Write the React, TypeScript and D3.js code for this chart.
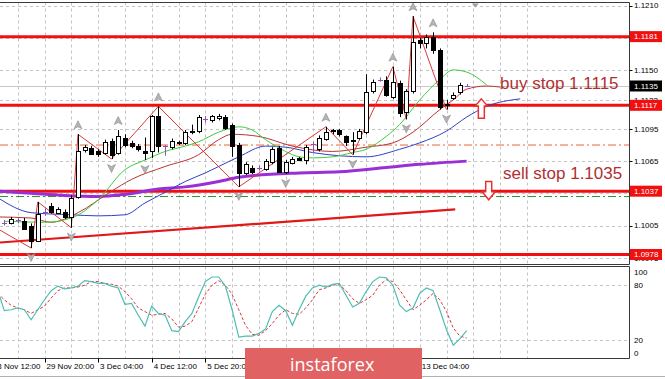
import React from 'react';
import * as d3 from 'd3';

// ---------- DATA (H4 EURUSD candles, index 0..69) ----------
const opens = [1.1007,1.1007,1.1010,1.1009,1.1005,1.0991,1.1018,1.1023,1.1017,1.1018,1.1013,1.1032,1.1075,1.1077,1.1074,1.1073,1.1084,1.1073,1.1087,1.1082,1.1079,1.1074,1.1074,1.1107,1.1079,1.1078,1.1082,1.1082,1.1092,1.1093,1.1104,1.1103,1.1105,1.1106,1.1099,1.1080,1.1054,1.1059,1.1059,1.1058,1.1064,1.1077,1.1055,1.1063,1.1068,1.1066,1.1081,1.1076,1.1086,1.1093,1.1094,1.1088,1.1084,1.1087,1.1092,1.1130,1.1141,1.1141,1.1125,1.1138,1.1111,1.1130,1.1178,1.1175,1.1181,1.1169,1.1117,1.1124,1.1129,1.1135];
const highs = [1.1010,1.1013,1.1012,1.1012,1.1007,1.1027,1.1021,1.1026,1.1022,1.1020,1.1033,1.1090,1.1080,1.1079,1.1076,1.1085,1.1086,1.1094,1.1090,1.1084,1.1081,1.1087,1.1108,1.1116,1.1080,1.1086,1.1084,1.1094,1.1099,1.1108,1.1107,1.1108,1.1109,1.1108,1.1100,1.1082,1.1064,1.1061,1.1061,1.1067,1.1078,1.1079,1.1066,1.1069,1.1069,1.1080,1.1083,1.1089,1.1097,1.1095,1.1095,1.1089,1.1092,1.1095,1.1146,1.1141,1.1143,1.1144,1.1153,1.1140,1.1132,1.1200,1.1180,1.1183,1.1185,1.1170,1.1122,1.1129,1.1138,1.1137];
const lows = [1.1005,1.1006,1.1007,1.1001,1.0984,1.0990,1.1014,1.1016,1.1016,1.1011,1.1003,1.1030,1.1073,1.1071,1.1069,1.1071,1.1067,1.1071,1.1078,1.1077,1.1074,1.1066,1.1068,1.1073,1.1070,1.1076,1.1080,1.1080,1.1090,1.1091,1.1101,1.1101,1.1103,1.1094,1.1069,1.1041,1.1052,1.1053,1.1056,1.1056,1.1062,1.1054,1.1053,1.1062,1.1065,1.1062,1.1073,1.1074,1.1084,1.1090,1.1088,1.1079,1.1071,1.1085,1.1090,1.1128,1.1139,1.1125,1.1123,1.1106,1.1104,1.1128,1.1170,1.1170,1.1165,1.1113,1.1113,1.1122,1.1127,1.1134];
const closes = [1.1007,1.1011,1.1010,1.1002,1.0991,1.1016,1.1018,1.1018,1.1020,1.1013,1.1031,1.1074,1.1078,1.1072,1.1072,1.1083,1.1071,1.1088,1.1080,1.1079,1.1076,1.1073,1.1107,1.1079,1.1079,1.1084,1.1083,1.1092,1.1093,1.1106,1.1104,1.1107,1.1107,1.1096,1.1079,1.1054,1.1062,1.1055,1.1059,1.1065,1.1076,1.1055,1.1064,1.1067,1.1066,1.1078,1.1081,1.1087,1.1092,1.1094,1.1090,1.1083,1.1085,1.1093,1.1129,1.1139,1.1141,1.1127,1.1139,1.1110,1.1130,1.1176,1.1175,1.1181,1.1169,1.1115,1.1118,1.1127,1.1136,1.1135];

const priceTicks = [1.1210, 1.1180, 1.1150, 1.1122, 1.1095, 1.1065, 1.1035, 1.1005, 1.0975];
const levelLines = [1.1181, 1.1117, 1.1037, 1.0978];
const bidPrice = 1.1135;
const orangeLevel = 1.1080;
const greenLevel = 1.1032;

const timeLabels = ['28 Nov 12:00', '29 Nov 20:00', '3 Dec 04:00', '4 Dec 12:00', '5 Dec 20:00', '9 Dec 04:00', '10 Dec 12:00', '11 Dec 20:00', '13 Dec 04:00'];
const timeLabelIdx = [-2, 6, 14, 22, 30, 38, 46, 54, 62];

// Alligator (shifted) lines: [bar index, price]
const jaw: [number, number][] = [[-1,1.1031],[4,1.1017],[10,1.1015],[14,1.1014],[18,1.1015],[21,1.1026],[24,1.1036],[27,1.1046],[30,1.1054],[32,1.1060],[35,1.1069],[39,1.1079],[42,1.1078],[46,1.1073],[50,1.1070],[54,1.1069],[59,1.1076],[62,1.1082],[66,1.1093],[69,1.1106],[72,1.1116],[77,1.1123]];
const teeth: [number, number][] = [[-1,1.1013],[4,1.1012],[7,1.1008],[11,1.1017],[16,1.1037],[19,1.1048],[24,1.1060],[29,1.1071],[32,1.1085],[34,1.1090],[38,1.1088],[43,1.1079],[49,1.1074],[54,1.1078],[58,1.1082],[61,1.1092],[65,1.1113],[67,1.1122],[69,1.1132],[72,1.1135],[74,1.1134]];
const lips: [number, number][] = [[0,1.1009],[6,1.1008],[10,1.1012],[14,1.1029],[18,1.1057],[21,1.1066],[24,1.1074],[27,1.1079],[29,1.1083],[32,1.1092],[35,1.1097],[37,1.1094],[39,1.1085],[42,1.1074],[44,1.1069],[46,1.1068],[49,1.1069],[52,1.1073],[54,1.1076],[57,1.1088],[59,1.1099],[62,1.1122],[65,1.1141],[67,1.1150],[69,1.1148],[72,1.1136]];
const slowMA: [number, number][] = [[-1,1.1037],[4,1.1035],[9,1.1033],[14,1.1032],[18,1.1034],[23,1.1039],[27,1.1041],[32,1.1046],[35,1.1050],[44,1.1054],[50,1.1055],[57,1.1059],[62,1.1062],[69,1.1065]];
const zigzag: [number, number][] = [[-1,1.1002],[4,1.0984],[5,1.1027],[10,1.1003],[11,1.1090],[16,1.1067],[23,1.1116],[35,1.1041],[48,1.1097],[52,1.1071],[58,1.1153],[60,1.1104],[61,1.1200],[66,1.1113]];
const trendLine: [number, number][] = [[-1, 1.0989], [67.3, 1.1020]];
const fractalUp = [11, 17, 23, 48, 58, 61, 64];
const fractalDown = [4, 10, 16, 21, 35, 42, 52, 60, 66];

// Stochastic, starting at bar index -1
const stochStart = -1;
const stochMain = [75,52,53,55,53,42,53,64,74,79,76,77,79,85,84,82,82,79,77,59,60,47,35,57,49,47,30,29,40,49,67,84,89,89,79,53,23,24,24,27,32,51,58,52,36,53,68,77,80,78,81,82,69,56,60,73,84,89,88,80,58,51,55,71,77,74,53,31,14,21,30];
const stochSignal = [71,64,58,55,53,49,53,57,66,74,77,77,78,80,84,84,82,81,79,73,65,55,51,47,48,49,43,34,35,40,55,70,80,85,80,70,53,36,26,25,30,38,47,53,49,48,55,64,75,77,80,81,74,65,60,64,69,80,86,84,75,64,53,58,64,71,64,51,33,24,22];
const stochLevels = [80, 20];
const stochLabels = [100, 80, 20, 0];

const FONT = "'Liberation Sans', Arial, sans-serif";

export default function App() {
  const W = 665, H = 379;
  const plotR = 629.5;
  const mainTop = 2.5, mainBot = 264.5, subTop = 266.5, subBot = 358.5;
  const x = d3.scaleLinear().domain([0, 69]).range([4.3, 466.6]);
  const y = d3.scaleLinear().domain([1.0978, 1.1210]).range([254.5, 5.5]);
  const ys = d3.scaleLinear().domain([0, 100]).range([358, 267]);
  const idx = d3.range(opens.length);
  const gridIdx = d3.range(-2, 80, 4).filter(i => x(i) < plotR - 2);

  const smooth = d3.line<[number, number]>().x(d => x(d[0])).y(d => y(d[1])).curve(d3.curveMonotoneX);
  const straight = d3.line<[number, number]>().x(d => x(d[0])).y(d => y(d[1]));
  const stochLine = d3.line<number>().x((_, i) => x(i + stochStart)).y(d => ys(d));

  const cxOf = (i: number) => Math.round(x(i)) + 0.5;

  const fractalPath = (cx: number, cy: number, up: boolean) => {
    const s = up ? 1 : -1;
    return `M${cx},${cy - 4.5 * s} L${cx + 4},${cy + 3.5 * s} L${cx},${cy + 1.5 * s} L${cx - 4},${cy + 3.5 * s} Z`;
  };

  // annotation anchors (index, price)
  const upArrow = { i: 71.2, top: 1.1123, bot: 1.1105 };
  const dnArrow = { i: 72.3, top: 1.1046, bot: 1.1029 };
  const ua = { cx: x(upArrow.i), t: y(upArrow.top), b: y(upArrow.bot) };
  const da = { cx: x(dnArrow.i), t: y(dnArrow.top), b: y(dnArrow.bot) };

  return (
    <div style={{ position: 'absolute', left: 0, top: 0 }}>
      <svg width={W} height={H} style={{ display: 'block', background: '#fff' }} fontFamily={FONT}>
        <defs>
          <clipPath id="mainClip"><rect x={0} y={mainTop} width={plotR} height={mainBot - mainTop} /></clipPath>
          <clipPath id="subClip"><rect x={0} y={subTop} width={plotR} height={subBot - subTop} /></clipPath>
        </defs>
        <rect x={0} y={0} width={W} height={H} fill="#fff" />

        {/* grid main */}
        <g stroke="#c4c4c4" strokeWidth={1} strokeDasharray="3,3" clipPath="url(#mainClip)">
          {gridIdx.map(i => <line key={'gv' + i} x1={Math.round(x(i)) + 0.5} x2={Math.round(x(i)) + 0.5} y1={mainTop} y2={mainBot} />)}
          {priceTicks.map(p => <line key={'gh' + p} x1={0} x2={plotR} y1={Math.round(y(p)) + 0.5} y2={Math.round(y(p)) + 0.5} />)}
        </g>
        {/* grid sub */}
        <g stroke="#c4c4c4" strokeWidth={1} strokeDasharray="3,3" clipPath="url(#subClip)">
          {gridIdx.map(i => <line key={'sv' + i} x1={Math.round(x(i)) + 0.5} x2={Math.round(x(i)) + 0.5} y1={subTop} y2={subBot} />)}
          {stochLevels.map(v => <line key={'sh' + v} x1={0} x2={plotR} y1={Math.round(ys(v)) + 0.5} y2={Math.round(ys(v)) + 0.5} />)}
        </g>

        <g clipPath="url(#mainClip)">
          {/* level helper lines */}
          <line x1={0} x2={plotR} y1={y(orangeLevel)} y2={y(orangeLevel)} stroke="#e8653a" strokeWidth={1} strokeDasharray="8,3,2,3" />
          <line x1={0} x2={plotR} y1={y(greenLevel)} y2={y(greenLevel)} stroke="#2f8f2f" strokeWidth={1} strokeDasharray="8,3,2,3" />
          <line x1={0} x2={plotR} y1={Math.round(y(bidPrice)) + 0.5} y2={Math.round(y(bidPrice)) + 0.5} stroke="#c8c8c8" strokeWidth={1} />
          {levelLines.map(p => <line key={'lv' + p} x1={0} x2={plotR} y1={y(p)} y2={y(p)} stroke="#f01010" strokeWidth={3} />)}

          {/* trend line */}
          <path d={straight(trendLine) || ''} fill="none" stroke="#e01818" strokeWidth={2.2} />
          {/* slow MA */}
          <path d={smooth(slowMA) || ''} fill="none" stroke="#9a2fd6" strokeWidth={3} />
          {/* alligator */}
          <path d={smooth(jaw) || ''} fill="none" stroke="#2f3fc0" strokeWidth={1} />
          <path d={smooth(teeth) || ''} fill="none" stroke="#b83434" strokeWidth={1} />
          <path d={smooth(lips) || ''} fill="none" stroke="#3ccc3c" strokeWidth={1} />
          {/* zigzag */}
          <path d={straight(zigzag) || ''} fill="none" stroke="#d83a3a" strokeWidth={1} />

          {/* candles */}
          {idx.map(i => {
            const o = opens[i], c = closes[i], h = highs[i], l = lows[i];
            const cx = cxOf(i);
            const doji = o === c;
            const col = doji ? '#9a4bb5' : '#000';
            const yt = Math.round(y(Math.max(o, c)));
            const yb = Math.round(y(Math.min(o, c)));
            return (
              <g key={'c' + i}>
                <line x1={cx} x2={cx} y1={y(h)} y2={y(l)} stroke={col} strokeWidth={1} />
                {doji ? (
                  <line x1={cx - 2.5} x2={cx + 2.5} y1={yt + 0.5} y2={yt + 0.5} stroke={col} strokeWidth={1} />
                ) : (
                  <rect x={cx - 2} y={yt + 0.5} width={4} height={Math.max(1, yb - yt)} fill={c > o ? '#fff' : '#000'} stroke="#000" strokeWidth={1} />
                )}
              </g>
            );
          })}

          {/* fractals */}
          {fractalUp.map(i => <path key={'fu' + i} d={fractalPath(x(i), y(highs[i]) - 9, true)} fill="#b4b4b4" stroke="#8c8c8c" strokeWidth={0.6} />)}
          {fractalDown.map(i => <path key={'fd' + i} d={fractalPath(x(i), y(lows[i]) + 9, false)} fill="#b4b4b4" stroke="#8c8c8c" strokeWidth={0.6} />)}

          {/* chart shift marker */}
          <path d={`M${x(70.3) - 3.5},${mainTop + 1} L${x(70.3) + 3.5},${mainTop + 1} L${x(70.3)},${mainTop + 5} Z`} fill="#a0a0a0" />

          {/* annotations */}
          <text x={x(74)} y={y(1.1132)} fontSize={17} fill="#b03030">buy stop 1.1115</text>
          <text x={x(74.45)} y={y(1.1048)} fontSize={17} fill="#b03030">sell stop 1.1035</text>
          <path d={`M${ua.cx},${ua.t} L${ua.cx + 6},${ua.t + 7} L${ua.cx + 3},${ua.t + 7} L${ua.cx + 3},${ua.b} L${ua.cx - 3},${ua.b} L${ua.cx - 3},${ua.t + 7} L${ua.cx - 6},${ua.t + 7} Z`} fill="#fff" stroke="#e83030" strokeWidth={1.5} />
          <path d={`M${da.cx - 3},${da.t} L${da.cx + 3},${da.t} L${da.cx + 3},${da.b - 8} L${da.cx + 6.5},${da.b - 8} L${da.cx},${da.b} L${da.cx - 6.5},${da.b - 8} L${da.cx - 3},${da.b - 8} Z`} fill="#fff" stroke="#e83030" strokeWidth={1.5} />
        </g>

        {/* stochastic */}
        <g clipPath="url(#subClip)">
          <path d={stochLine(stochSignal) || ''} fill="none" stroke="#d23c3c" strokeWidth={1} strokeDasharray="3,2" />
          <path d={stochLine(stochMain) || ''} fill="none" stroke="#4fbdb3" strokeWidth={1.2} />
        </g>

        {/* frames */}
        <g stroke="#3a3a3a" strokeWidth={1} fill="none">
          <line x1={0} x2={plotR} y1={mainTop} y2={mainTop} />
          <line x1={0} x2={plotR} y1={mainBot} y2={mainBot} />
          <line x1={0} x2={plotR} y1={subTop} y2={subTop} />
          <line x1={0} x2={plotR} y1={subBot} y2={subBot} />
          <line x1={plotR} x2={plotR} y1={mainTop} y2={mainBot} />
          <line x1={plotR} x2={plotR} y1={subTop} y2={subBot} />
        </g>
        <line x1={0} x2={W} y1={376.5} y2={376.5} stroke="#b0b0b0" />

        {/* price axis */}
        <g fontSize={8} fill="#000">
          {priceTicks.map(p => (
            <g key={'pt' + p}>
              <line x1={plotR} x2={plotR + 3} y1={Math.round(y(p)) + 0.5} y2={Math.round(y(p)) + 0.5} stroke="#000" />
              <text x={634} y={y(p)} dy="0.35em">{p.toFixed(4)}</text>
            </g>
          ))}
          {levelLines.map(p => (
            <g key={'pl' + p}>
              <rect x={630} y={y(p) - 5.5} width={32} height={11} fill="#f01010" />
              <text x={634} y={y(p)} dy="0.35em" fill="#fff">{p.toFixed(4)}</text>
            </g>
          ))}
          <rect x={630} y={y(bidPrice) - 5.5} width={32} height={11} fill="#000" />
          <text x={634} y={y(bidPrice)} dy="0.35em" fill="#fff">{bidPrice.toFixed(4)}</text>
        </g>

        {/* stochastic axis */}
        <g fontSize={8} fill="#000">
          {stochLabels.map(v => {
            const yy = v === 100 ? ys(v) + 5 : v === 0 ? ys(v) - 5 : ys(v);
            return <text key={'sl' + v} x={634} y={yy} dy="0.35em">{v}</text>;
          })}
        </g>

        {/* time axis */}
        <g fontSize={8} fill="#000">
          {timeLabelIdx.map((i, k) => (
            <g key={'tl' + i}>
              <line x1={Math.round(x(i)) + 0.5} x2={Math.round(x(i)) + 0.5} y1={subBot} y2={subBot + 4} stroke="#000" />
              <text x={x(i) + 2} y={369}>{timeLabels[k]}</text>
            </g>
          ))}
        </g>

        {/* watermark */}
        <rect x={245} y={348} width={177} height={31} fill="#e06262" />
        <text x={290} y={371} fontSize={18} fill="#fff" fontFamily="'Open Sans', sans-serif">instaforex</text>
      </svg>
    </div>
  );
}
